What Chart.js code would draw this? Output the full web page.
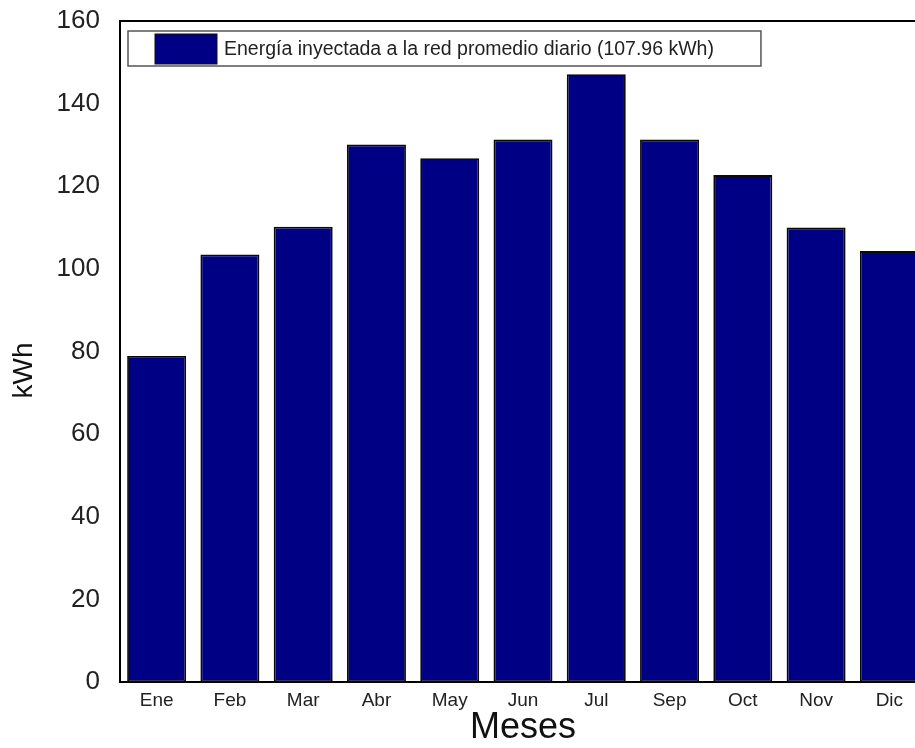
<!DOCTYPE html>
<html>
<head>
<meta charset="utf-8">
<script src="https://cdn.jsdelivr.net/npm/chart.js@4/dist/chart.umd.min.js"></script>
<style>
  html, body { margin: 0; padding: 0; background: #fff; overflow: hidden; }
  #wrap { width: 926px; height: 748px; }
</style>
</head>
<body>
<div id="wrap"><canvas id="c" width="926" height="748"></canvas></div>
<script>
// Energía inyectada a la red, promedio diario por mes (kWh)
const months = ['Ene', 'Feb', 'Mar', 'Abr', 'May', 'Jun', 'Jul', 'Sep', 'Oct', 'Nov', 'Dic'];
const energyKWh = [78.9, 103.5, 110.2, 130.1, 126.8, 131.3, 147.1, 131.3, 122.7, 110.0, 104.3];
const seriesLabel = 'Energía inyectada a la red promedio diario (107.96 kWh)';
const yTicks = [0, 20, 40, 60, 80, 100, 120, 140, 160];
const yTitle = 'kWh';

const FONT = '"Liberation Sans", Arial, sans-serif';
const BAR_FILL = '#000084';

// Plot frame (top/right edges), y-axis title and boxed legend inside the plot area
const framePlugin = {
  id: 'frameAndLegend',
  afterDraw(chart) {
    const { ctx, chartArea: a } = chart;
    ctx.save();
    ctx.strokeStyle = '#000';
    ctx.lineWidth = 2;
    ctx.beginPath();
    ctx.moveTo(a.left, a.top);
    ctx.lineTo(a.right, a.top);
    ctx.lineTo(a.right, a.bottom);
    ctx.stroke();

    // y-axis title, sitting slightly below the axis middle
    ctx.save();
    ctx.translate(24, (a.top + a.bottom) / 2 + 19);
    ctx.rotate(-Math.PI / 2);
    ctx.font = '28px ' + FONT;
    ctx.fillStyle = '#111';
    ctx.textAlign = 'center';
    ctx.textBaseline = 'middle';
    ctx.fillText(yTitle, 0, 0);
    ctx.restore();

    const ds = chart.data.datasets[0];
    ctx.font = '19.5px ' + FONT;
    const tw = ctx.measureText(ds.label).width;
    const bx = a.left + 8, by = a.top + 10, bh = 35;
    const bw = 96 + tw + 47;
    ctx.fillStyle = '#fff';
    ctx.fillRect(bx, by, bw, bh);
    ctx.strokeStyle = '#555';
    ctx.lineWidth = 1.5;
    ctx.strokeRect(bx, by, bw, bh);
    ctx.fillStyle = ds.backgroundColor;
    ctx.fillRect(bx + 27, by + 3, 62, 30);
    ctx.strokeStyle = '#111';
    ctx.lineWidth = 1;
    ctx.strokeRect(bx + 27, by + 3, 62, 30);
    ctx.fillStyle = '#222';
    ctx.textBaseline = 'middle';
    ctx.textAlign = 'left';
    ctx.fillText(ds.label, bx + 96, by + bh / 2 + 1);
    ctx.restore();
  }
};

new Chart(document.getElementById('c'), {
  type: 'bar',
  data: {
    labels: months,
    datasets: [{
      label: seriesLabel,
      data: energyKWh,
      backgroundColor: BAR_FILL,
      borderColor: '#0a0a0a',
      borderWidth: 1.8,
      borderSkipped: false,
      barPercentage: 0.805,
      categoryPercentage: 1.0
    }]
  },
  options: {
    responsive: false,
    animation: false,
    layout: { padding: { top: 21, right: 0, left: 0, bottom: 0 } },
    plugins: { legend: { display: false }, tooltip: { enabled: false } },
    scales: {
      x: {
        grid: { display: false, drawTicks: false },
        border: { display: true, color: '#000', width: 2 },
        ticks: { color: '#222', font: { family: FONT, size: 19 }, padding: 7, maxRotation: 0 },
        title: { display: true, text: 'Meses', color: '#111', font: { family: FONT, size: 36 }, padding: { top: 0, bottom: -2 } },
        afterFit(scale) { scale.height = 66; scale.paddingLeft = 0; scale.paddingRight = 0; }
      },
      y: {
        min: 0, max: 160,
        afterBuildTicks(scale) { scale.ticks = yTicks.map(v => ({ value: v })); },
        grid: { display: false, drawTicks: false },
        border: { display: true, color: '#000', width: 2 },
        ticks: { color: '#222', font: { family: FONT, size: 26 }, padding: 20 },
        title: { display: false },
        afterFit(scale) { scale.width = 120; scale.paddingTop = 0; scale.paddingBottom = 0; }
      }
    }
  },
  plugins: [framePlugin]
});
</script>
</body>
</html>
